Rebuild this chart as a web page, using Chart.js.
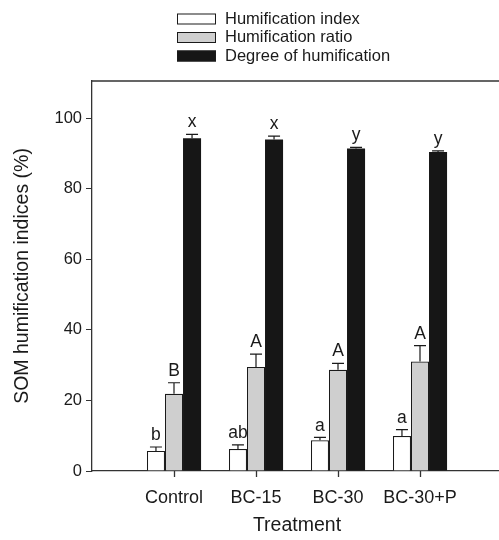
<!DOCTYPE html>
<html>
<head>
<meta charset="utf-8">
<script src="https://cdn.jsdelivr.net/npm/chart.js@4.4.1/dist/chart.umd.min.js"></script>
<style>
  html, body { margin: 0; padding: 0; background: #fff; }
  #wrap { width: 499px; height: 540px; overflow: hidden; }
</style>
</head>
<body>
<div id="wrap"><canvas id="chart" width="510" height="540"></canvas></div>
<script>
// treatments and values
const treatments = ["Control", "BC-15", "BC-30", "BC-30+P"];
const humIndex = [5.7, 6.2, 8.7, 9.9];
const humIndexErr = [1.1, 1.2, 0.8, 1.8];
const humRatio = [21.9, 29.5, 28.7, 31.0];
const humRatioErr = [3.1, 3.6, 1.8, 4.5];
const humDegree = [94.3, 93.9, 91.4, 90.4];
const humDegreeErr = [1.1, 1.0, 0.3, 0.3];
const letterIndex = ["b", "ab", "a", "a"];
const letterRatio = ["B", "A", "A", "A"];
const letterDegree = ["x", "x", "y", "y"];
const yTicks = [0, 20, 40, 60, 80, 100];

const FONT = "'Liberation Sans', Arial, sans-serif";
const INK = "#1a1a1a";

// one empty slot each side so the groups sit like the original
const pad = arr => [null, ...arr, null];
const labels = ["", ...treatments, ""];

// error bars (upper only) and significance letters
const errorBars = {
    id: "errorBars",
    afterDatasetsDraw(chart) {
        const ctx = chart.ctx;
        const y = chart.scales.y;
        ctx.save();
        chart.data.datasets.forEach((ds, i) => {
            const meta = chart.getDatasetMeta(i);
            meta.data.forEach((bar, j) => {
                const v = ds.data[j];
                if (v == null) return;
                const top = y.getPixelForValue(v + ds.err[j]);
                ctx.strokeStyle = INK;
                ctx.lineWidth = 1.2;
                ctx.beginPath();
                ctx.moveTo(bar.x, bar.y);
                ctx.lineTo(bar.x, top);
                ctx.moveTo(bar.x - 6, top);
                ctx.lineTo(bar.x + 6, top);
                ctx.stroke();
                ctx.fillStyle = INK;
                ctx.font = "17.5px " + FONT;
                ctx.textAlign = "center";
                ctx.textBaseline = "bottom";
                ctx.fillText(ds.letters[j], bar.x, top - 3);
            });
        });
        ctx.restore();
    }
};

// top frame line, x tick marks at the treatments, stacked legend
const frameAndLegend = {
    id: "frameAndLegend",
    afterDraw(chart) {
        const ctx = chart.ctx;
        const a = chart.chartArea;
        const x = chart.scales.x;
        ctx.save();
        ctx.strokeStyle = "#333";
        ctx.lineWidth = 1.3;
        ctx.beginPath();
        ctx.moveTo(a.left, a.top);
        ctx.lineTo(a.right, a.top);
        treatments.forEach((t, k) => {
            const px = Math.round(x.getPixelForTick(k + 1)) + 0.5;
            ctx.moveTo(px, a.bottom);
            ctx.lineTo(px, a.bottom + 6);
        });
        ctx.stroke();

        chart.data.datasets.forEach((ds, i) => {
            const yc = 19 + i * 18.5;
            ctx.fillStyle = ds.backgroundColor;
            ctx.fillRect(177, yc - 5.5, 39, 11);
            ctx.strokeStyle = INK;
            ctx.lineWidth = 1;
            ctx.strokeRect(177.5, yc - 5, 38, 10);
            ctx.fillStyle = INK;
            ctx.font = "16.5px " + FONT;
            ctx.textAlign = "left";
            ctx.textBaseline = "middle";
            ctx.fillText(ds.label, 225, yc);
        });
        ctx.restore();
    }
};

new Chart(document.getElementById("chart"), {
    type: "bar",
    data: {
        labels: labels,
        datasets: [
            {
                label: "Humification index",
                data: pad(humIndex),
                err: pad(humIndexErr),
                letters: pad(letterIndex),
                backgroundColor: "#ffffff",
                borderColor: INK,
                borderWidth: 1.2
            },
            {
                label: "Humification ratio",
                data: pad(humRatio),
                err: pad(humRatioErr),
                letters: pad(letterRatio),
                backgroundColor: "#cfcfcf",
                borderColor: INK,
                borderWidth: 1.2
            },
            {
                label: "Degree of humification",
                data: pad(humDegree),
                err: pad(humDegreeErr),
                letters: pad(letterDegree),
                backgroundColor: "#161616",
                borderColor: "#161616",
                borderWidth: 0
            }
        ]
    },
    options: {
        responsive: false,
        animation: false,
        layout: { padding: { top: 81, right: 0, left: 0, bottom: 0 } },
        plugins: {
            legend: { display: false },
            tooltip: { enabled: false }
        },
        datasets: {
            bar: { categoryPercentage: 0.66, barPercentage: 1.0 }
        },
        scales: {
            x: {
                offset: false,
                grid: { display: false },
                border: { display: true, color: "#333", width: 1.3 },
                ticks: {
                    color: INK,
                    font: { family: FONT, size: 18 },
                    padding: 8,
                    autoSkip: false,
                    maxRotation: 0
                },
                title: {
                    display: true,
                    text: "Treatment",
                    color: INK,
                    font: { family: FONT, size: 19.5 },
                    padding: { top: 14, bottom: 3 }
                },
                afterFit: s => { s.height = 69; }
            },
            y: {
                min: 0,
                max: 110.5,
                afterBuildTicks: s => { s.ticks = yTicks.map(v => ({ value: v })); },
                grid: {
                    display: true,
                    drawOnChartArea: false,
                    drawTicks: true,
                    tickLength: 6,
                    color: "#333"
                },
                border: { display: true, color: "#333", width: 1.3 },
                ticks: {
                    color: INK,
                    font: { family: FONT, size: 16.5 },
                    padding: 4
                },
                title: {
                    display: true,
                    text: "SOM humification indices (%)",
                    color: INK,
                    font: { family: FONT, size: 19.5 },
                    padding: { top: 11, bottom: 4 }
                },
                afterFit: s => { s.width = 92; }
            }
        }
    },
    plugins: [errorBars, frameAndLegend]
});
</script>
</body>
</html>
